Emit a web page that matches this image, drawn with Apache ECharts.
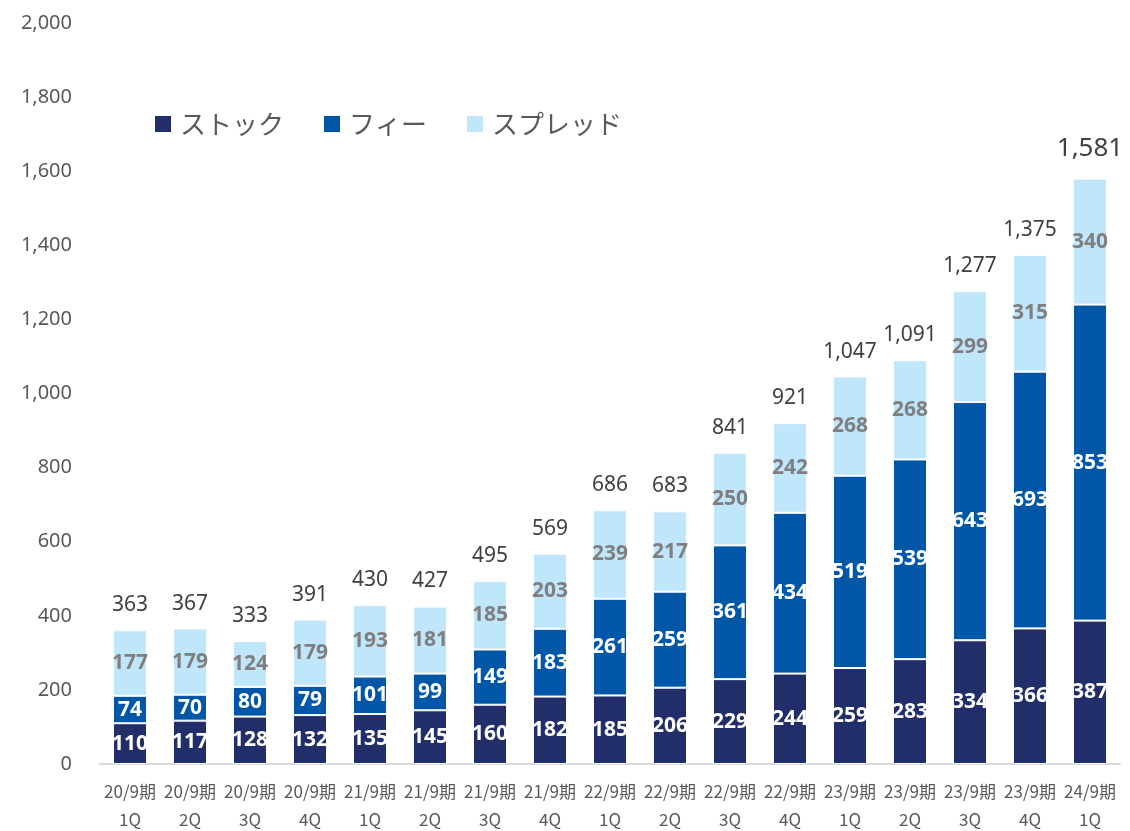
<!DOCTYPE html>
<html><head><meta charset="utf-8">
<script src="https://cdn.jsdelivr.net/npm/echarts@6/dist/echarts.min.js"></script>
<style>html,body{margin:0;padding:0;background:#fff}#c{width:1130px;height:831px}</style>
</head><body><div id="c"></div>
<script>
const categories = ['20/9期\n1Q','20/9期\n2Q','20/9期\n3Q','20/9期\n4Q','21/9期\n1Q','21/9期\n2Q','21/9期\n3Q','21/9期\n4Q','22/9期\n1Q','22/9期\n2Q','22/9期\n3Q','22/9期\n4Q','23/9期\n1Q','23/9期\n2Q','23/9期\n3Q','23/9期\n4Q','24/9期\n1Q'];
const stock = [110,117,128,132,135,145,160,182,185,206,229,244,259,283,334,366,387];
const fee = [74,70,80,79,101,99,149,183,261,259,361,434,519,539,643,693,853];
const spread = [177,179,124,179,193,181,185,203,239,217,250,242,268,268,299,315,340];
const totals = [363,367,333,391,430,427,495,569,686,683,841,921,1047,1091,1277,1375,1581];
const yTicks = {min:0, max:2000, interval:200};

const NUM = '"Noto Sans","Noto Sans CJK JP",sans-serif';
const JP = '"Noto Sans CJK JP","Noto Sans",sans-serif';
const fmt = v => v.toLocaleString('en-US');

const chart = echarts.init(document.getElementById('c'), null, {renderer:'canvas'});
const inner = (color) => ({show:true, position:'inside', color:color, fontWeight:'bold', fontSize:21, fontFamily:NUM});
const barCommon = {type:'bar', stack:'s', barWidth:34};
chart.setOption({
  animation:false,
  grid:{left:100, right:10, top:23, bottom:67, containLabel:false, outerBoundsMode:'none'},
  legend:{
    left:150, top:106, itemWidth:16, itemHeight:16, itemGap:40, icon:'rect',
    data:['ストック','フィー','スプレッド'],
    itemStyle:{borderWidth:0},
    textStyle:{fontSize:26, color:'#595959', fontFamily:JP, padding:[0,0,0,4]}
  },
  xAxis:{
    type:'category', data:categories,
    axisLine:{lineStyle:{color:'#d9d9d9', width:2}},
    axisTick:{show:false},
    axisLabel:{color:'#595959', fontSize:17, lineHeight:28, margin:14, fontFamily:JP, interval:0}
  },
  yAxis:{
    type:'value', min:yTicks.min, max:yTicks.max, interval:yTicks.interval,
    splitLine:{show:false}, axisLine:{show:false}, axisTick:{show:false},
    axisLabel:{color:'#595959', fontSize:20, margin:28, fontFamily:NUM, formatter:v=>fmt(v)}
  },
  series:[
    Object.assign({}, barCommon, {name:'ストック', data:stock, itemStyle:{color:'#222e6a', borderColor:'#fff', borderWidth:1}, label:inner('#ffffff')}),
    Object.assign({}, barCommon, {name:'フィー', data:fee, itemStyle:{color:'#0057a8', borderColor:'#fff', borderWidth:1}, label:inner('#ffffff')}),
    Object.assign({}, barCommon, {name:'スプレッド', data:spread, itemStyle:{color:'#c0e6fc', borderColor:'#fff', borderWidth:1}, label:inner('#7f7f7f')}),
    {
      name:'合計', type:'bar', barWidth:34, barGap:'-100%', z:1, silent:true,
      itemStyle:{color:'rgba(0,0,0,0)'},
      data: totals.map((v,i)=> i===totals.length-1
        ? {value:v, label:{fontSize:26, distance:17}}
        : {value:v}),
      label:{show:true, position:'top', distance:14, color:'#404040', fontSize:21, fontFamily:NUM, formatter:p=>fmt(p.value)}
    }
  ]
});
</script></body></html>
